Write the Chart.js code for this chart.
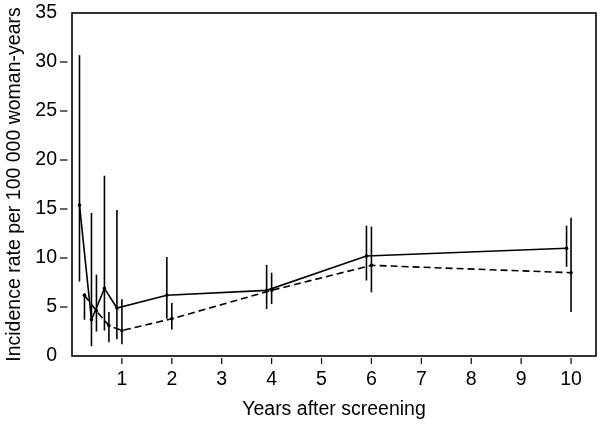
<!DOCTYPE html>
<html>
<head>
<meta charset="utf-8">
<script src="https://cdn.jsdelivr.net/npm/chart.js@4/dist/chart.umd.min.js"></script>
<style>
  body { margin: 0; background: #fff; }
  canvas { display: block; }
</style>
</head>
<body>
<canvas id="incidenceChart" width="600" height="424"></canvas>
<script>
// solid line series (plotted slightly left of the dashed one)
const solidX = [0.15, 0.39, 0.65, 0.90, 1.90, 3.90, 5.90, 9.91];
const solidY = [15.4, 3.7, 6.9, 4.9, 6.2, 6.7, 10.2, 11.0];
const solidLo = [7.6, 1.0, 2.6, 1.7, 3.8, 4.8, 7.7, 9.1];
const solidHi = [30.7, 14.6, 18.4, 14.9, 10.1, 9.3, 13.3, 13.3];

// dashed line series
const dashX = [0.25, 0.49, 0.74, 1.0, 2.0, 4.0, 6.0, 10.0];
const dashY = [6.2, 4.6, 3.1, 2.6, 3.8, 6.7, 9.25, 8.5];
const dashLo = [3.7, 2.5, 1.4, 1.2, 2.7, 5.3, 6.5, 4.5];
const dashHi = [6.4, 8.3, 4.5, 5.8, 5.4, 8.5, 13.2, 14.1];

const xTicks = [1, 2, 3, 4, 5, 6, 7, 8, 9, 10];
const yTicks = [0, 5, 10, 15, 20, 25, 30, 35];
const yTickMarks = [5, 10, 15, 20, 25, 30];

const FONT = "'Liberation Sans', Arial, Helvetica, sans-serif";

function toPoints(xs, ys) {
    return xs.map((x, i) => ({ x: x, y: ys[i] }));
}

// box, detached tick marks and vertical error bars
const framePlugin = {
    id: 'frame',
    beforeDatasetsDraw(chart) {
        const ctx = chart.ctx;
        const xs = chart.scales.x;
        const ys = chart.scales.y;
        ctx.save();
        ctx.strokeStyle = '#000';
        ctx.lineWidth = 1.6;
        const bars = [[solidX, solidLo, solidHi], [dashX, dashLo, dashHi]];
        bars.forEach(([xv, lo, hi]) => {
            xv.forEach((x, i) => {
                const px = xs.getPixelForValue(x);
                ctx.beginPath();
                ctx.moveTo(px, ys.getPixelForValue(lo[i]));
                ctx.lineTo(px, ys.getPixelForValue(hi[i]));
                ctx.stroke();
            });
        });
        ctx.restore();
    },
    afterDraw(chart) {
        const ctx = chart.ctx;
        const a = chart.chartArea;
        const xs = chart.scales.x;
        const ys = chart.scales.y;
        ctx.save();
        ctx.strokeStyle = '#000';
        ctx.lineWidth = 1.6;
        ctx.strokeRect(a.left, a.top, a.right - a.left, a.bottom - a.top);
        ctx.lineWidth = 1.2;
        yTickMarks.forEach(v => {
            const py = ys.getPixelForValue(v);
            ctx.beginPath();
            ctx.moveTo(a.left - 12, py);
            ctx.lineTo(a.left - 4.5, py);
            ctx.stroke();
        });
        xTicks.forEach(v => {
            const px = xs.getPixelForValue(v);
            ctx.beginPath();
            ctx.moveTo(px, a.bottom + 2);
            ctx.lineTo(px, a.bottom + 8);
            ctx.stroke();
        });
        ctx.restore();
    }
};

new Chart(document.getElementById('incidenceChart'), {
    type: 'scatter',
    data: {
        datasets: [
            {
                data: toPoints(solidX, solidY),
                showLine: true,
                borderColor: '#000',
                backgroundColor: '#000',
                borderWidth: 1.6,
                pointRadius: 1.8,
                pointBorderWidth: 0
            },
            {
                data: toPoints(dashX, dashY),
                showLine: true,
                borderColor: '#000',
                backgroundColor: '#000',
                borderWidth: 1.6,
                borderDash: [7, 4],
                pointRadius: 1.8,
                pointBorderWidth: 0
            }
        ]
    },
    options: {
        responsive: false,
        animation: false,
        layout: { padding: { top: 13, right: 1, left: 0, bottom: 0 } },
        plugins: {
            legend: { display: false },
            tooltip: { enabled: false }
        },
        scales: {
            x: {
                type: 'linear',
                min: 0,
                max: 10.5,
                grid: { display: false, drawTicks: false },
                border: { display: false },
                afterBuildTicks: (scale) => {
                    scale.ticks = xTicks.map(v => ({ value: v }));
                },
                afterFit: (scale) => { scale.height = 68; },
                ticks: {
                    color: '#000',
                    padding: 12,
                    maxRotation: 0,
                    font: { family: FONT, size: 19.5 }
                },
                title: {
                    display: true,
                    text: 'Years after screening',
                    color: '#000',
                    padding: { top: 0, bottom: 3 },
                    font: { family: FONT, size: 19.5 }
                }
            },
            y: {
                type: 'linear',
                min: 0,
                max: 35,
                grid: { display: false, drawTicks: false },
                border: { display: false },
                afterBuildTicks: (scale) => {
                    scale.ticks = yTicks.map(v => ({ value: v }));
                },
                afterFit: (scale) => {
                    scale.width = 72;
                    scale.paddingTop = 0;
                    scale.paddingBottom = 0;
                },
                ticks: {
                    color: '#000',
                    padding: 15,
                    font: { family: FONT, size: 19.5 }
                },
                title: {
                    display: true,
                    text: 'Incidence rate per 100 000 woman-years',
                    color: '#000',
                    padding: { top: 3, bottom: 0 },
                    font: { family: FONT, size: 19.5 }
                }
            }
        }
    },
    plugins: [framePlugin]
});
</script>
</body>
</html>
